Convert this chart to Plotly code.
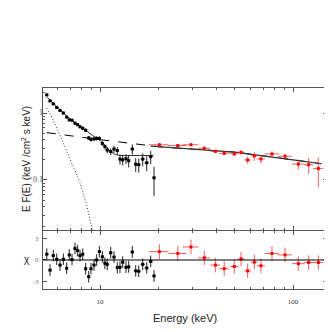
import numpy as np
import plotly.graph_objects as go

# black data set (low energy instrument)
blk_e = [5.30, 5.51, 5.73, 5.97, 6.21, 6.46, 6.72, 6.93, 7.16, 7.42, 7.66, 7.88,
         8.14, 8.43, 8.74, 8.98, 9.31, 9.61, 9.92, 10.28, 10.60, 10.90, 11.36, 11.82,
         12.29, 12.69, 13.11, 13.64, 14.08, 14.70, 15.31, 15.87, 16.64, 17.46, 18.31, 19.05]
blk_f = [1.87, 1.52, 1.37, 1.21, 1.09, 1.00, 0.87, 0.79, 0.78, 0.705, 0.67, 0.624,
         0.593, 0.553, 0.425, 0.404, 0.411, 0.418, 0.418, 0.351, 0.316, 0.28, 0.266, 0.29,
         0.275, 0.205, 0.20, 0.208, 0.194, 0.29, 0.172, 0.169, 0.205, 0.181, 0.223, 0.108]
blk_ferr = [0.08, 0.07, 0.06, 0.06, 0.05, 0.05, 0.045, 0.04, 0.04, 0.04, 0.035, 0.035,
            0.035, 0.035, 0.03, 0.03, 0.03, 0.03, 0.03, 0.03, 0.03, 0.03, 0.03, 0.035,
            0.035, 0.035, 0.035, 0.035, 0.04, 0.05, 0.04, 0.04, 0.045, 0.045, 0.05, 0.05]
blk_res = [0.8, -1.4, 0.6, 0.1, -0.7, 0.1, -1.15, 0.7, 0.05, 1.6, 1.3, 0.6,
           0.8, -1.2, -2.3, -1.2, -0.7, 0.0, 1.15, 0.45, -0.45, -0.6, 1.0, 0.4,
           -1.05, -1.0, -0.3, -1.0, -0.95, 1.1, -1.5, -1.55, -0.6, -1.1, -0.2, -2.2]
blk_reserr = [0.8] * len(blk_e)

# red data set (high energy instrument)
red_e = [20.3, 25.3, 29.6, 34.7, 39.6, 44.0, 49.6, 53.8, 58.2, 63.0, 68.2, 77.8,
         90.9, 106.5, 120.5, 135.2]
red_ew = [2.4, 2.7, 2.8, 2.5, 2.3, 2.6, 2.4, 2.3, 2.4, 2.6, 3.3, 6.6,
          7.7, 7.7, 6.5, 8.2]
red_f = [0.336, 0.327, 0.336, 0.298, 0.268, 0.250, 0.245, 0.259, 0.199, 0.229, 0.206, 0.245,
         0.226, 0.173, 0.169, 0.148]
red_ferr = [0.012, 0.012, 0.013, 0.013, 0.014, 0.015, 0.016, 0.017, 0.024, 0.035, 0.03, 0.022,
            0.022, 0.03, 0.045, 0.07]
red_res = [1.15, 0.9, 1.8, 0.3, -0.7, -1.2, -0.9, 0.15, -1.5, -0.3, -0.8, 0.9,
           0.7, -0.5, -0.35, -0.35]
red_reserr = [1.0] * len(red_e)

# model components
dash_e = [5.3, 10, 20, 50, 100, 140]
dash_f = [0.51, 0.40, 0.315, 0.26, 0.20, 0.175]
dot_e = [5.30, 5.73, 6.21, 6.72, 7.28, 7.88, 8.53, 9.08, 9.3]
dot_f = [1.18, 0.783, 0.464, 0.275, 0.163, 0.091, 0.0428, 0.0189, 0.014]
mod_e = [5.30, 6.0, 6.72, 7.5, 8.53, 9.3, 10.0, 10.6, 11.27, 12.0, 12.69, 18.9]
mod_f = [1.75, 1.25, 0.90, 0.70, 0.53, 0.45, 0.39, 0.33, 0.27, 0.24, 0.232, 0.232]
mod2_e = [18.3, 50, 100, 140]
mod2_f = [0.32, 0.26, 0.20, 0.175]

# main-panel y tick labels
ytick_vals = [0.1, 1]
ytick_text = ['0.1', '1']

blk_ew = np.gradient(np.array(blk_e)) / 2

XRANGE = [0.7047, 2.176]
YRANGE = [-1.747, 0.374]

fig = go.Figure()

# model lines
fig.add_trace(go.Scatter(x=dot_e, y=dot_f, mode='lines',
                         line=dict(color='#333', width=1, dash='1px,2px'), xaxis='x', yaxis='y'))
fig.add_trace(go.Scatter(x=dash_e, y=dash_f, mode='lines',
                         line=dict(color='black', width=1, dash='dash'), xaxis='x', yaxis='y'))
fig.add_trace(go.Scatter(x=mod_e, y=mod_f, mode='lines',
                         line=dict(color='#333', width=1), xaxis='x', yaxis='y'))
fig.add_trace(go.Scatter(x=mod2_e, y=mod2_f, mode='lines',
                         line=dict(color='#333', width=1.2), xaxis='x', yaxis='y'))

# data
fig.add_trace(go.Scatter(
    x=blk_e, y=blk_f, mode='markers', xaxis='x', yaxis='y',
    marker=dict(color='black', size=3, symbol='square'),
    error_x=dict(type='data', array=blk_ew, color='black', thickness=1, width=0),
    error_y=dict(type='data', array=blk_ferr, color='#222', thickness=1, width=0)))
fig.add_trace(go.Scatter(
    x=red_e, y=red_f, mode='markers', xaxis='x', yaxis='y',
    marker=dict(color='red', size=3, symbol='square'),
    error_x=dict(type='data', array=red_ew, color='rgba(235,40,40,0.75)', thickness=1, width=0),
    error_y=dict(type='data', array=red_ferr, color='rgba(235,40,40,0.75)', thickness=1, width=0)))

# y tick labels of the log panel as text at the left edge of the axis
fig.add_trace(go.Scatter(
    x=[10 ** XRANGE[0]] * len(ytick_vals), y=ytick_vals, mode='text', text=ytick_text,
    textposition='middle left', cliponaxis=False, xaxis='x', yaxis='y',
    textfont=dict(family='Liberation Serif', size=8, color='#555'), hoverinfo='skip'))

# residuals
fig.add_trace(go.Scatter(
    x=blk_e, y=blk_res, mode='markers', xaxis='x2', yaxis='y2',
    marker=dict(color='black', size=3, symbol='square'),
    error_x=dict(type='data', array=blk_ew, color='black', thickness=1, width=0),
    error_y=dict(type='data', array=blk_reserr, color='#222', thickness=1, width=0)))
fig.add_trace(go.Scatter(
    x=red_e, y=red_res, mode='markers', xaxis='x2', yaxis='y2',
    marker=dict(color='red', size=3, symbol='square'),
    error_x=dict(type='data', array=red_ew, color='rgba(235,40,40,0.75)', thickness=1, width=0),
    error_y=dict(type='data', array=red_reserr, color='rgba(235,40,40,0.75)', thickness=1, width=0)))

fig.add_shape(type='line', xref='x2 domain', yref='y2', x0=0, x1=1, y0=0, y1=0,
              line=dict(color='black', width=1))

tickfont = dict(family='Liberation Serif', size=7, color='#777')
minor_x = [6, 7, 8, 9, 20, 30, 40, 50, 60, 70, 80, 90]
axis_common = dict(showline=True, linecolor='#555', linewidth=1, mirror='ticks',
                   ticks='inside', ticklen=4, tickcolor='#555', showgrid=False,
                   zeroline=False, tickfont=tickfont)

# page body has an 8px margin, so the figure is drawn 8px in from the window corner
fig.update_layout(
    width=324, height=324,
    margin=dict(l=35, r=5, t=80, b=43),
    paper_bgcolor='white', plot_bgcolor='white',
    showlegend=False,
    xaxis=dict(axis_common, type='log', range=XRANGE, domain=[0, 1], anchor='y',
               tickvals=[10, 100], showticklabels=False,
               minor=dict(tickvals=minor_x, ticks='inside', ticklen=2, tickcolor='#555')),
    xaxis2=dict(axis_common, type='log', range=XRANGE, domain=[0, 1], anchor='y2',
                matches='x', tickvals=[10, 100], ticktext=['10', '100'],
                ticklabelstandoff=6,
                tickfont=dict(family='Liberation Serif', size=7, color='#333'),
                minor=dict(tickvals=minor_x, ticks='inside', ticklen=2, tickcolor='#555')),
    yaxis=dict(axis_common, type='log', range=YRANGE, domain=[0.2935, 1], anchor='x',
               tickvals=ytick_vals, showticklabels=False,
               minor=dict(tickvals=[0.02, 0.03, 0.04, 0.05, 0.06, 0.07, 0.08, 0.09,
                                    0.2, 0.3, 0.4, 0.5, 0.6, 0.7, 0.8, 0.9, 2],
                          ticks='inside', ticklen=2, tickcolor='#555')),
    yaxis2=dict(axis_common, range=[-4, 4], domain=[0, 0.2886], anchor='x2',
                tickvals=[-3, 0, 3], ticktext=['-3', '0', '3'], ticklabelstandoff=2),
)

titlefont = dict(family='Liberation Sans', size=10, color='#222')
fig.add_annotation(text='E F(E) (keV /cm<sup>2</sup> s keV)', xref='paper', yref='paper',
                   x=0, y=0.6467, xshift=-17, textangle=-90, showarrow=False,
                   xanchor='center', yanchor='middle', font=titlefont)
fig.add_annotation(text='χ', xref='paper', yref='paper', x=0, y=0.1443, xshift=-16,
                   showarrow=False, xanchor='center', yanchor='middle', font=titlefont)
fig.add_annotation(text='Energy (keV)', xref='paper', yref='paper', x=0.5, y=0, yshift=-29,
                   showarrow=False, xanchor='center', yanchor='middle',
                   font=dict(family='Liberation Sans', size=11, color='#222'))

fig.write_html("out.html")
